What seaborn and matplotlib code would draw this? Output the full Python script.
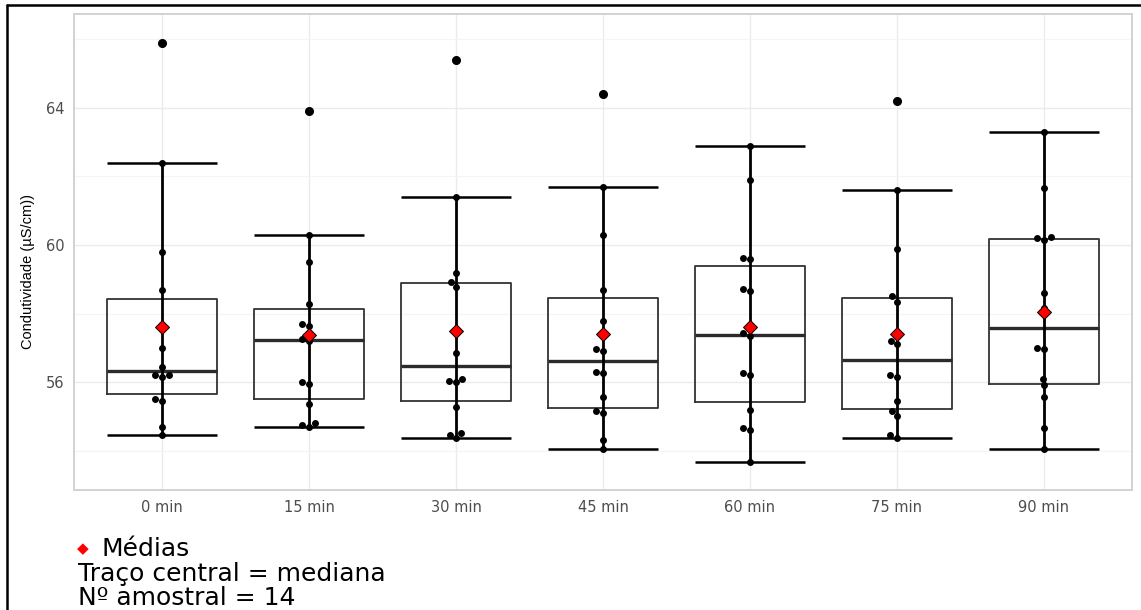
import numpy as np
import pandas as pd
import matplotlib
matplotlib.use("Agg")
import matplotlib.pyplot as plt
from matplotlib.lines import Line2D
import seaborn as sns

# ---- data ----
categories = ["0 min", "15 min", "30 min", "45 min", "60 min", "75 min", "90 min"]
t0 = [54.46, 54.70, 55.45, 55.50, 56.15, 56.20, 56.20, 56.45, 57.00, 57.60, 58.70, 59.80, 62.40, 65.90]
t15 = [54.68, 54.75, 54.80, 55.37, 55.95, 56.00, 57.20, 57.25, 57.65, 57.70, 58.28, 59.49, 60.29, 63.90]
t30 = [54.36, 54.45, 54.50, 55.27, 56.00, 56.03, 56.10, 56.85, 57.50, 58.78, 58.92, 59.18, 61.39, 65.41]
t45 = [54.06, 54.30, 55.10, 55.15, 55.57, 56.25, 56.30, 56.90, 56.95, 57.78, 58.69, 60.29, 61.70, 64.41]
t60 = [53.66, 54.60, 54.65, 55.17, 56.20, 56.25, 57.35, 57.42, 58.65, 58.72, 59.60, 59.62, 61.90, 62.90]
t75 = [54.36, 54.45, 55.00, 55.15, 55.45, 56.15, 56.20, 57.10, 57.20, 58.35, 58.50, 59.89, 61.60, 64.20]
t90 = [54.06, 54.67, 55.57, 55.90, 56.10, 56.95, 57.00, 58.15, 58.60, 60.15, 60.20, 60.22, 61.65, 63.30]
series = [t0, t15, t30, t45, t60, t75, t90]
y_ticks = [56, 60, 64]
y_minor = [54, 58, 62, 66]
y_label = "Condutividade (µS/cm))"
notes = ["Médias", "Traço central = mediana", "Nº amostral = 14"]

df = pd.DataFrame({
    "tempo": np.repeat(categories, [len(s) for s in series]),
    "valor": np.concatenate(series),
})

sns.set_theme(style="white")
plt.rcParams["font.family"] = ["DejaVu Sans"]

W, H = 1141, 610
fig = plt.figure(figsize=(W / 100, H / 100), dpi=100)
ax = fig.add_axes([74 / W, 1 - 490 / H, (1132 - 74) / W, (490 - 14) / H])

# boxes (no fill), whiskers hidden: drawn below as ggplot-style errorbar
sns.boxplot(data=df, x="tempo", y="valor", order=categories, ax=ax,
            fill=False, color="#333333", width=0.75, linewidth=1.3,
            showcaps=False, whis=1.5, fliersize=5.5,
            whiskerprops={"linewidth": 0},
            medianprops={"linewidth": 2.4, "color": "#2b2b2b"},
            flierprops={"marker": "o", "markerfacecolor": "black",
                        "markeredgecolor": "black"},
            zorder=2)

# errorbar (stat_boxplot geom errorbar) from data
for i, s in enumerate(series):
    v = np.asarray(s)
    q1, q3 = np.percentile(v, [25, 75])
    iqr = q3 - q1
    lo = v[v >= q1 - 1.5 * iqr].min()
    hi = v[v <= q3 + 1.5 * iqr].max()
    ax.vlines(i, lo, hi, color="black", lw=2.0, zorder=3)
    ax.hlines([lo, hi], i - 0.375, i + 0.375, color="black", lw=1.8, zorder=3)

# dots
sns.swarmplot(data=df, x="tempo", y="valor", order=categories, ax=ax,
              color="black", size=5.0, linewidth=0, zorder=4)

# means
sns.pointplot(data=df, x="tempo", y="valor", order=categories, ax=ax,
              estimator="mean", errorbar=None, linestyle="none",
              marker="D", color="red", markersize=7.5,
              markeredgecolor="black", markeredgewidth=0.7, zorder=5)

ax.set_xlim(-0.6, 6.6)
ax.set_ylim(52.85, 66.74)
ax.set_yticks(y_ticks)
ax.set_yticks(y_minor, minor=True)
ax.set_xlabel("")
ax.set_ylabel(y_label, fontsize=10.5, color="black",
              family=["Liberation Sans", "DejaVu Sans"])
ax.yaxis.set_label_coords(-0.037, 0.46)

ax.grid(which="major", axis="both", color="#ebebeb", lw=1.0)
ax.grid(which="minor", axis="y", color="#f4f4f4", lw=0.8)
ax.set_axisbelow(True)
ax.tick_params(which="major", length=4, color="#b3b3b3", width=1,
               labelsize=10.5, labelcolor="#4d4d4d", pad=3)
ax.tick_params(which="minor", length=0)
for sp in ax.spines.values():
    sp.set_color("#d2d2d2")
    sp.set_linewidth(1.4)
    sp.set_visible(True)

# notes under the plot
fig.text(77 / W, 1 - 549 / H, "◆", color="red", fontsize=11, va="center", ha="left")
fig.text(102 / W, 1 - 549 / H, notes[0], fontsize=18, color="black", va="center", ha="left")
fig.text(78 / W, 1 - 574 / H, notes[1], fontsize=18, color="black", va="center", ha="left")
fig.text(78 / W, 1 - 598 / H, notes[2], fontsize=18, color="black", va="center", ha="left")

# black frame (top and left) of the screenshot
fig.add_artist(Line2D([7 / W, 1], [1 - 5 / H, 1 - 5 / H], color="black", lw=1.8,
                      transform=fig.transFigure))
fig.add_artist(Line2D([7 / W, 7 / W], [0, 1 - 5 / H], color="black", lw=1.8,
                      transform=fig.transFigure))

fig.savefig("out.png", dpi=100, facecolor="white")
